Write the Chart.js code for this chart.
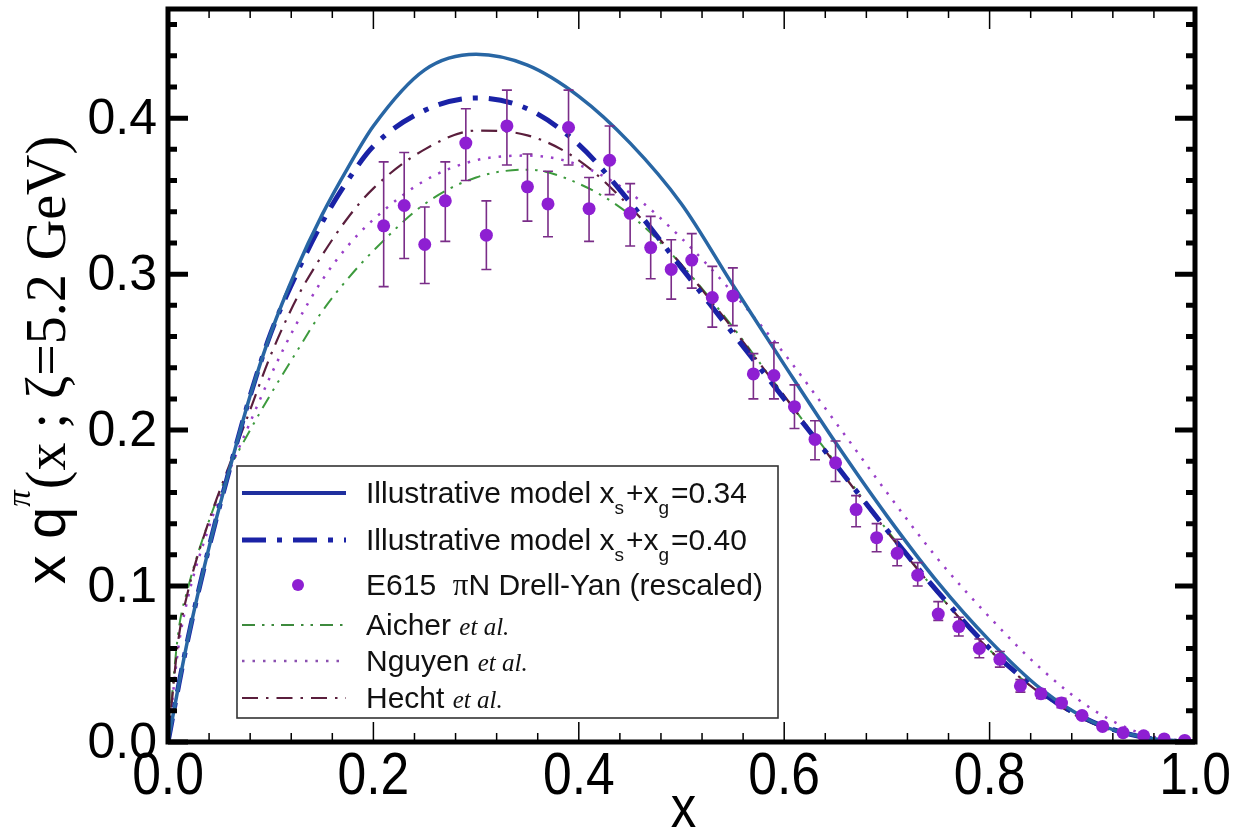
<!DOCTYPE html>
<html><head><meta charset="utf-8">
<script src="https://cdn.jsdelivr.net/npm/chart.js@4.4.1/dist/chart.umd.min.js"></script>
<style>html,body{margin:0;padding:0;background:#fff;}#wrap{width:1237px;height:832px;position:relative;}</style>
</head><body><div id="wrap"><canvas id="c" width="1237" height="832"></canvas></div>
<script>
// ---------- data ----------
const X_TICKS = [0.0, 0.2, 0.4, 0.6, 0.8, 1.0];
const Y_TICKS = [0.0, 0.1, 0.2, 0.3, 0.4];
const X_TICK_LABELS = ['0.0', '0.2', '0.4', '0.6', '0.8', '1.0'];
const Y_TICK_LABELS = ['0.0', '0.1', '0.2', '0.3', '0.4'];

const curveX = [0, 0.01, 0.02, 0.04, 0.06, 0.08, 0.10, 0.125, 0.15, 0.175, 0.20, 0.25, 0.30, 0.35, 0.40, 0.45, 0.50, 0.55, 0.60, 0.65, 0.70, 0.75, 0.80, 0.85, 0.90, 0.95, 1.0];
const model034 = [0, 0.035, 0.068, 0.125, 0.175, 0.222, 0.262, 0.303, 0.338, 0.368, 0.395, 0.431, 0.441, 0.434, 0.414, 0.384, 0.345, 0.293, 0.242, 0.192, 0.145, 0.102, 0.065, 0.034, 0.013, 0.003, 0];
const model040 = [0, 0.035, 0.068, 0.125, 0.175, 0.222, 0.262, 0.300, 0.333, 0.360, 0.382, 0.405, 0.413, 0.406, 0.383, 0.346, 0.304, 0.262, 0.220, 0.178, 0.136, 0.096, 0.060, 0.032, 0.013, 0.003, 0];
const aicher   = [0, 0.070, 0.100, 0.142, 0.175, 0.200, 0.223, 0.250, 0.276, 0.297, 0.315, 0.345, 0.362, 0.367, 0.358, 0.338, 0.306, 0.266, 0.222, 0.179, 0.136, 0.095, 0.059, 0.031, 0.012, 0.003, 0];
const nguyen   = [0, 0.060, 0.094, 0.138, 0.174, 0.205, 0.235, 0.268, 0.296, 0.318, 0.335, 0.360, 0.373, 0.376, 0.370, 0.352, 0.323, 0.288, 0.249, 0.205, 0.160, 0.117, 0.080, 0.047, 0.021, 0.005, 0];
const hecht    = [0, 0.065, 0.098, 0.142, 0.178, 0.213, 0.248, 0.284, 0.312, 0.336, 0.355, 0.380, 0.392, 0.389, 0.373, 0.343, 0.306, 0.265, 0.222, 0.178, 0.135, 0.095, 0.059, 0.031, 0.012, 0.003, 0];

const e615X  = [0.21, 0.23, 0.25, 0.27, 0.29, 0.31, 0.33, 0.35, 0.37, 0.39, 0.41, 0.43, 0.45, 0.47, 0.49, 0.51, 0.53, 0.55, 0.57, 0.59, 0.61, 0.63, 0.65, 0.67, 0.69, 0.71, 0.73, 0.75, 0.77, 0.79, 0.81, 0.83, 0.85, 0.87, 0.89, 0.91, 0.93, 0.95, 0.97, 0.99];
const e615Y  = [0.331, 0.344, 0.319, 0.347, 0.384, 0.325, 0.395, 0.356, 0.345, 0.394, 0.342, 0.373, 0.339, 0.317, 0.303, 0.309, 0.285, 0.286, 0.236, 0.235, 0.215, 0.194, 0.179, 0.149, 0.131, 0.121, 0.107, 0.082, 0.074, 0.060, 0.053, 0.036, 0.031, 0.025, 0.017, 0.010, 0.006, 0.004, 0.002, 0.001];
const e615Hi = [0.372, 0.378, 0.343, 0.372, 0.406, 0.347, 0.418, 0.377, 0.366, 0.418, 0.362, 0.395, 0.358, 0.337, 0.322, 0.326, 0.305, 0.304, 0.249, 0.256, 0.229, 0.206, 0.193, 0.158, 0.140, 0.130, 0.115, 0.090, 0.080, 0.066, 0.058, 0.040, 0.034, 0.028, 0.019, 0.012, 0.007, 0.005, 0.003, 0.002];
const e615Lo = [0.292, 0.310, 0.294, 0.321, 0.360, 0.303, 0.370, 0.334, 0.324, 0.370, 0.321, 0.351, 0.318, 0.297, 0.284, 0.291, 0.266, 0.267, 0.220, 0.220, 0.201, 0.181, 0.167, 0.138, 0.122, 0.113, 0.100, 0.078, 0.068, 0.054, 0.048, 0.032, 0.028, 0.022, 0.015, 0.008, 0.005, 0.003, 0.001, 0.000];

// ---------- helpers ----------
const pts = (xs, ys) => xs.map((x, i) => ({x: x, y: ys[i]}));
const SANS = '"Liberation Sans", Arial, sans-serif';
const SERIF = '"Liberation Serif", "Times New Roman", serif';

const STY = {
  m34:  {color: '#2866a4', legend: '#1f2f9e', width: 3.5, dash: []},
  m40:  {color: '#1a22a6', legend: '#1a22a6', width: 5,   dash: [24, 11, 5, 11]},
  aic:  {color: '#3d9a3d', legend: '#3d8a3d', width: 2,   dash: [13, 7, 2.5, 7, 2.5, 7]},
  ngu:  {color: '#9a3fc8', legend: '#8a4fb0', width: 2.5, dash: [2.5, 8]},
  hec:  {color: '#5a1e3c', legend: '#5a1e3c', width: 2.2, dash: [16, 8, 2.5, 8]},
  pt:   {color: '#8e1fd2', err: '#7a2d88'}
};

function lineDS(label, ys, s, order) {
  return {type: 'line', label: label, data: pts(curveX, ys), borderColor: s.color, borderWidth: s.width,
    borderDash: s.dash, pointRadius: 0, fill: false, cubicInterpolationMode: 'monotone', order: order};
}

// ---------- plugins ----------
const errorBars = {
  id: 'errorBars',
  beforeDatasetDraw(chart, args) {
    if (args.meta.type !== 'scatter') return;
    const {ctx, scales: {x, y}} = chart;
    ctx.save();
    ctx.strokeStyle = STY.pt.err; ctx.lineWidth = 1.6;
    e615X.forEach((xv, i) => {
      const px = x.getPixelForValue(xv), pHi = y.getPixelForValue(e615Hi[i]), pLo = y.getPixelForValue(e615Lo[i]);
      ctx.beginPath();
      ctx.moveTo(px, pHi); ctx.lineTo(px, pLo);
      ctx.moveTo(px - 5, pHi); ctx.lineTo(px + 5, pHi);
      ctx.moveTo(px - 5, pLo); ctx.lineTo(px + 5, pLo);
      ctx.stroke();
    });
    ctx.restore();
  }
};

const frame = {
  id: 'frame',
  afterDatasetsDraw(chart) {
    const {ctx, chartArea: a, scales: {x, y}} = chart;
    ctx.save();
    ctx.strokeStyle = '#000';
    ctx.lineWidth = 1.5;
    for (let k = 0; k <= 25; k++) {
      const v = k * 0.04, px = x.getPixelForValue(v), L = (k % 5 === 0) ? 20 : 9;
      ctx.beginPath();
      ctx.moveTo(px, a.bottom); ctx.lineTo(px, a.bottom - L);
      ctx.moveTo(px, a.top); ctx.lineTo(px, a.top + L);
      ctx.stroke();
    }
    ctx.lineWidth = 5;
    for (let k = 0; k <= 23; k++) {
      const v = k * 0.02, py = y.getPixelForValue(v), L = (k % 5 === 0) ? 20 : 9;
      ctx.beginPath();
      ctx.moveTo(a.left, py); ctx.lineTo(a.left + L, py);
      ctx.moveTo(a.right, py); ctx.lineTo(a.right - L, py);
      ctx.stroke();
    }
    ctx.lineWidth = 5;
    ctx.strokeRect(a.left, a.top, a.right - a.left, a.bottom - a.top);
    ctx.restore();
  }
};

function drawSegs(ctx, segs, x0, y0) {
  let xx = x0;
  segs.forEach(s => {
    ctx.font = s.font;
    ctx.fillText(s.t, xx, y0 + (s.dy || 0));
    xx += ctx.measureText(s.t).width + (s.gap || 0);
  });
  return xx;
}
function segsWidth(ctx, segs) {
  let w = 0;
  segs.forEach(s => { ctx.font = s.font; w += ctx.measureText(s.t).width + (s.gap || 0); });
  return w;
}

const texts = {
  id: 'texts',
  afterDraw(chart) {
    const {ctx, chartArea: a, scales: {x, y}} = chart;
    ctx.save();
    ctx.fillStyle = '#000';
    // x tick labels
    X_TICKS.forEach((v, i) => {
      const px = x.getPixelForValue(v);
      ctx.save();
      ctx.translate(px, 794);
      ctx.scale(0.86, 1);
      ctx.font = '60px ' + SANS; ctx.textAlign = 'center'; ctx.textBaseline = 'alphabetic';
      ctx.fillText(X_TICK_LABELS[i], 0, 0);
      ctx.restore();
    });
    // x title
    ctx.save();
    ctx.translate(x.getPixelForValue(0.5) + 2, 827);
    ctx.scale(0.85, 1);
    ctx.font = '60px ' + SANS; ctx.textAlign = 'center'; ctx.textBaseline = 'alphabetic';
    ctx.fillText('x', 0, 0);
    ctx.restore();
    // y tick labels
    ctx.font = '50px ' + SANS; ctx.textAlign = 'right'; ctx.textBaseline = 'middle';
    Y_TICKS.forEach((v, i) => ctx.fillText(Y_TICK_LABELS[i], 157, y.getPixelForValue(v) + 2));
    // y title
    const segs = [
      {t: 'x q', font: '58px ' + SANS},
      {t: 'π', font: 'italic 33px ' + SERIF, dy: -35, gap: 1},
      {t: '(x ; ζ=5.2 GeV)', font: '56px ' + SERIF}
    ];
    ctx.save();
    ctx.translate(65, 360);
    ctx.rotate(-Math.PI / 2);
    ctx.textAlign = 'left'; ctx.textBaseline = 'alphabetic';
    const w = segsWidth(ctx, segs);
    drawSegs(ctx, segs, -w / 2, 0);
    ctx.restore();

    // legend
    const L = {x0: 237, y0: 466, x1: 778, y1: 718};
    ctx.fillStyle = '#fff';
    ctx.fillRect(L.x0, L.y0, L.x1 - L.x0, L.y1 - L.y0);
    ctx.strokeStyle = '#333'; ctx.lineWidth = 1.6;
    ctx.strokeRect(L.x0, L.y0, L.x1 - L.x0, L.y1 - L.y0);
    const sx0 = 242, sx1 = 346, tx = 366;
    const rows = [
      {y: 493, kind: 'line', s: STY.m34},
      {y: 540, kind: 'line', s: STY.m40},
      {y: 585, kind: 'dot'},
      {y: 625, kind: 'line', s: STY.aic},
      {y: 661, kind: 'line', s: STY.ngu},
      {y: 698, kind: 'line', s: STY.hec}
    ];
    const F = '30px ' + SANS, FS = '19px ' + SANS, FI = 'italic 25px ' + SERIF;
    const rowText = [
      [{t: 'Illustrative model x', font: F}, {t: 's', font: FS, dy: 11, gap: 2}, {t: '+x', font: F}, {t: 'g', font: FS, dy: 11, gap: 2}, {t: '=0.34', font: F}],
      [{t: 'Illustrative model x', font: F}, {t: 's', font: FS, dy: 11, gap: 2}, {t: '+x', font: F}, {t: 'g', font: FS, dy: 11, gap: 2}, {t: '=0.40', font: F}],
      [{t: 'E615  ', font: F}, {t: 'π', font: '31px ' + SERIF}, {t: 'N Drell-Yan (rescaled)', font: F}],
      [{t: 'Aicher ', font: F}, {t: 'et al.', font: FI}],
      [{t: 'Nguyen ', font: F}, {t: 'et al.', font: FI}],
      [{t: 'Hecht ', font: F}, {t: 'et al.', font: FI}]
    ];
    rows.forEach((r, i) => {
      if (r.kind === 'line') {
        ctx.save();
        ctx.strokeStyle = r.s.legend; ctx.lineWidth = r.s.width + (i === 0 ? 0.5 : 0);
        ctx.setLineDash(r.s.dash);
        ctx.beginPath(); ctx.moveTo(sx0, r.y); ctx.lineTo(sx1, r.y); ctx.stroke();
        ctx.restore();
      } else {
        ctx.fillStyle = STY.pt.color;
        ctx.beginPath(); ctx.arc(298, r.y, 6, 0, Math.PI * 2); ctx.fill();
      }
      ctx.fillStyle = '#111'; ctx.textAlign = 'left'; ctx.textBaseline = 'alphabetic';
      drawSegs(ctx, rowText[i], tx, r.y + 10);
    });
    ctx.restore();
  }
};

// ---------- chart ----------
new Chart(document.getElementById('c'), {
  data: {
    datasets: [
      {type: 'scatter', label: 'E615 πN Drell-Yan (rescaled)', data: pts(e615X, e615Y), backgroundColor: STY.pt.color,
        borderColor: STY.pt.color, pointRadius: 6.5, pointHoverRadius: 6.5, borderWidth: 0, order: 0},
      lineDS('Illustrative model xs+xg=0.34', model034, STY.m34, 1),
      lineDS('Illustrative model xs+xg=0.40', model040, STY.m40, 2),
      lineDS('Hecht et al.', hecht, STY.hec, 3),
      lineDS('Aicher et al.', aicher, STY.aic, 4),
      lineDS('Nguyen et al.', nguyen, STY.ngu, 5)
    ]
  },
  options: {
    responsive: false, animation: false, devicePixelRatio: 1,
    layout: {padding: {top: 9, right: 42, left: 0, bottom: 0}},
    plugins: {legend: {display: false}, tooltip: {enabled: false}, title: {display: false}},
    scales: {
      x: {type: 'linear', min: 0, max: 1, grid: {display: false}, border: {display: false},
        ticks: {display: false}, afterFit: s => { s.height = 90; },
        afterBuildTicks: s => { s.ticks = X_TICKS.map(v => ({value: v})); }},
      y: {type: 'linear', min: 0, max: 0.47, grid: {display: false}, border: {display: false},
        ticks: {display: false}, afterFit: s => { s.width = 168; },
        afterBuildTicks: s => { s.ticks = Y_TICKS.map(v => ({value: v})); }}
    }
  },
  plugins: [errorBars, frame, texts]
});
</script>
</body></html>
